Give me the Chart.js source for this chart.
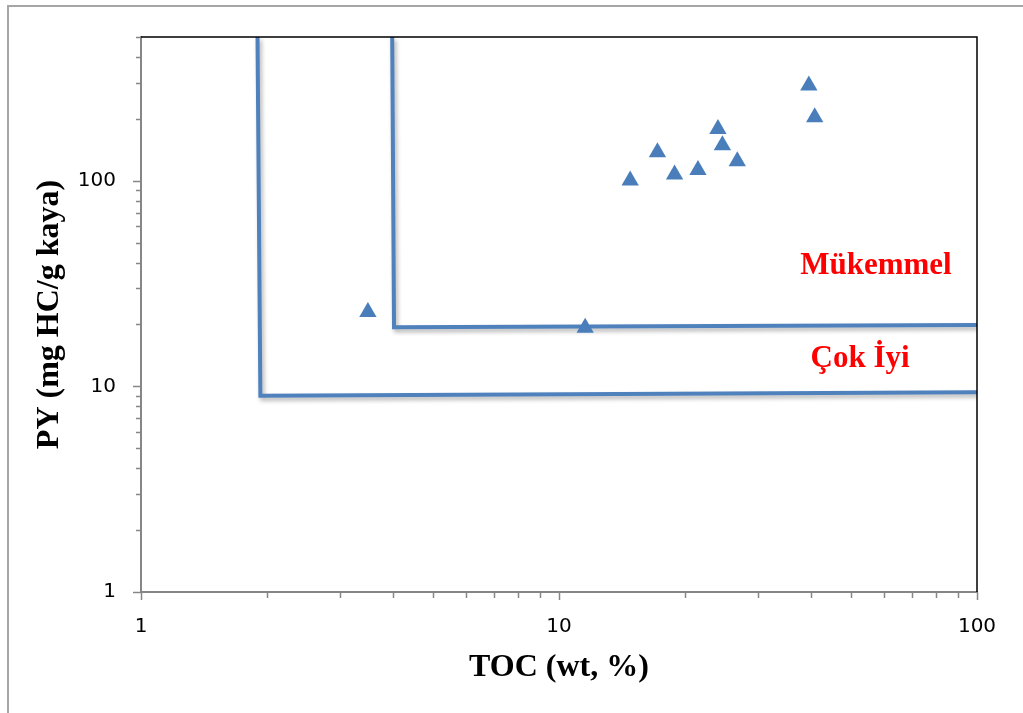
<!DOCTYPE html>
<html>
<head>
<meta charset="utf-8">
<script src="https://cdn.jsdelivr.net/npm/chart.js@4.4.1/dist/chart.umd.min.js"></script>
<style>
  body { margin: 0; background: #fff; }
  #wrap { width: 1023px; height: 713px; position: relative; }
</style>
</head>
<body>
<div id="wrap"><canvas id="myChart"></canvas></div>
<script>
// samples (TOC wt% vs PY mg HC/g kaya)
const tocValues = [14.8, 17.2, 18.9, 21.5, 24.0, 24.6, 26.7, 39.6, 40.9, 3.49, 11.55];
const pyValues  = [100.2, 137.5, 107.2, 112.8, 178.4, 148.7, 124.4, 290.8, 203.4, 23.0, 19.3];

// class boundaries
const cokIyiToc = [1.9, 1.93, 100];
const cokIyiPy  = [500, 9.0, 9.35];
const mukemmelToc = [3.99, 4.03, 100];
const mukemmelPy  = [500, 19.4, 19.9];

// ticks
const xTicks = [1,2,3,4,5,6,7,8,9,10,20,30,40,50,60,70,80,90,100];
const yTicks = [1,2,3,4,5,6,7,8,9,10,20,30,40,50,60,70,80,90,100,200,300,400,500];
const tickLabels = {1: '1', 10: '10', 100: '100'};

const zoneLabels = [
  { text: 'Mükemmel', x: 57.3, y: 35 },
  { text: 'Çok İyi', x: 52.5, y: 12.4 }
];

const axisGray = '#868686';
const blue = '#4F81BD';

function toPoints(xs, ys) {
  return xs.map((v, i) => ({ x: v, y: ys[i] }));
}
function isDecade(v) {
  return Math.abs(Math.log10(v) - Math.round(Math.log10(v))) < 1e-9;
}

const frame = {
  id: 'frame',
  beforeDraw(chart) {
    const ctx = chart.ctx;
    ctx.save();
    ctx.strokeStyle = '#a6a6a6';
    ctx.lineWidth = 2;
    ctx.strokeRect(8, 6, 1040, 740);
    ctx.restore();
  },
  afterDatasetsDraw(chart) {
    const { ctx, chartArea: a } = chart;
    ctx.save();
    ctx.strokeStyle = '#000';
    ctx.lineWidth = 1.5;
    ctx.beginPath();
    ctx.moveTo(a.left, a.top);
    ctx.lineTo(a.right, a.top);
    ctx.lineTo(a.right, a.bottom);
    ctx.stroke();
    ctx.restore();
  }
};

const tickMarks = {
  id: 'tickMarks',
  afterDraw(chart) {
    const { ctx, scales: { x, y } } = chart;
    ctx.save();
    ctx.strokeStyle = axisGray;
    ctx.lineWidth = 1.5;
    yTicks.forEach(v => {
      const py = Math.round(y.getPixelForValue(v)) + 0.5;
      const len = isDecade(v) ? 8 : 5;
      ctx.beginPath();
      ctx.moveTo(y.right - len, py);
      ctx.lineTo(y.right, py);
      ctx.stroke();
    });
    xTicks.forEach(v => {
      const px = Math.round(x.getPixelForValue(v)) + 0.5;
      const len = isDecade(v) ? 8 : 6;
      ctx.beginPath();
      ctx.moveTo(px, x.top);
      ctx.lineTo(px, x.top + len);
      ctx.stroke();
    });
    ctx.restore();
  }
};

const lineShadow = {
  id: 'lineShadow',
  beforeDatasetDraw(chart, args) {
    if (!chart.data.datasets[args.index].showLine) return;
    const ctx = chart.ctx;
    ctx.save();
    ctx.shadowColor = 'rgba(0,0,0,0.3)';
    ctx.shadowBlur = 4;
    ctx.shadowOffsetX = 2;
    ctx.shadowOffsetY = 3;
  },
  afterDatasetDraw(chart, args) {
    if (!chart.data.datasets[args.index].showLine) return;
    chart.ctx.restore();
  }
};

const zoneText = {
  id: 'zoneText',
  afterDatasetsDraw(chart) {
    const { ctx, scales: { x, y } } = chart;
    ctx.save();
    ctx.fillStyle = '#FF0000';
    ctx.font = 'bold 31px "Liberation Serif", "Times New Roman", serif';
    ctx.textAlign = 'center';
    ctx.textBaseline = 'alphabetic';
    zoneLabels.forEach(l => {
      ctx.fillText(l.text, x.getPixelForValue(l.x), y.getPixelForValue(l.y));
    });
    ctx.restore();
  }
};

const tickFont = { family: '"DejaVu Sans", sans-serif', size: 20 };
const titleFont = { family: '"Liberation Serif", "Times New Roman", serif', size: 32, weight: 'bold' };

new Chart(document.getElementById('myChart'), {
  type: 'scatter',
  data: {
    datasets: [
      {
        data: toPoints(tocValues, pyValues),
        pointStyle: 'triangle',
        pointRadius: 10,
        pointBorderWidth: 0,
        backgroundColor: '#4A7EBB',
        borderColor: '#4A7EBB'
      },
      {
        data: toPoints(mukemmelToc, mukemmelPy),
        showLine: true,
        pointRadius: 0,
        borderColor: blue,
        borderWidth: 4
      },
      {
        data: toPoints(cokIyiToc, cokIyiPy),
        showLine: true,
        pointRadius: 0,
        borderColor: blue,
        borderWidth: 4
      }
    ]
  },
  options: {
    responsive: true,
    maintainAspectRatio: false,
    animation: false,
    layout: { padding: { top: 36, right: 46, left: 0, bottom: 0 } },
    plugins: { legend: { display: false }, tooltip: { enabled: false } },
    scales: {
      x: {
        type: 'logarithmic',
        min: 1,
        max: 100,
        afterBuildTicks: s => { s.ticks = xTicks.map(v => ({ value: v })); },
        afterFit: s => { s.height = 121; },
        ticks: {
          autoSkip: false,
          maxRotation: 0,
          padding: 23,
          color: '#000',
          font: tickFont,
          callback: v => tickLabels[v] || ''
        },
        grid: { display: false, drawTicks: false },
        border: { color: axisGray, width: 2 },
        title: {
          display: true,
          text: 'TOC (wt, %)',
          color: '#000',
          font: titleFont,
          padding: { top: 0, bottom: 26 }
        }
      },
      y: {
        type: 'logarithmic',
        min: 1,
        max: 500,
        afterBuildTicks: s => { s.ticks = yTicks.map(v => ({ value: v })); },
        afterFit: s => { s.width = 141; },
        ticks: {
          autoSkip: false,
          padding: 25,
          color: '#000',
          font: tickFont,
          callback: v => tickLabels[v] || ''
        },
        grid: { display: false, drawTicks: false },
        border: { color: axisGray, width: 2 },
        title: {
          display: true,
          text: 'PY (mg HC/g kaya)',
          color: '#000',
          font: titleFont,
          padding: { top: 31, bottom: 0 }
        }
      }
    }
  },
  plugins: [frame, tickMarks, lineShadow, zoneText]
});
</script>
</body>
</html>
